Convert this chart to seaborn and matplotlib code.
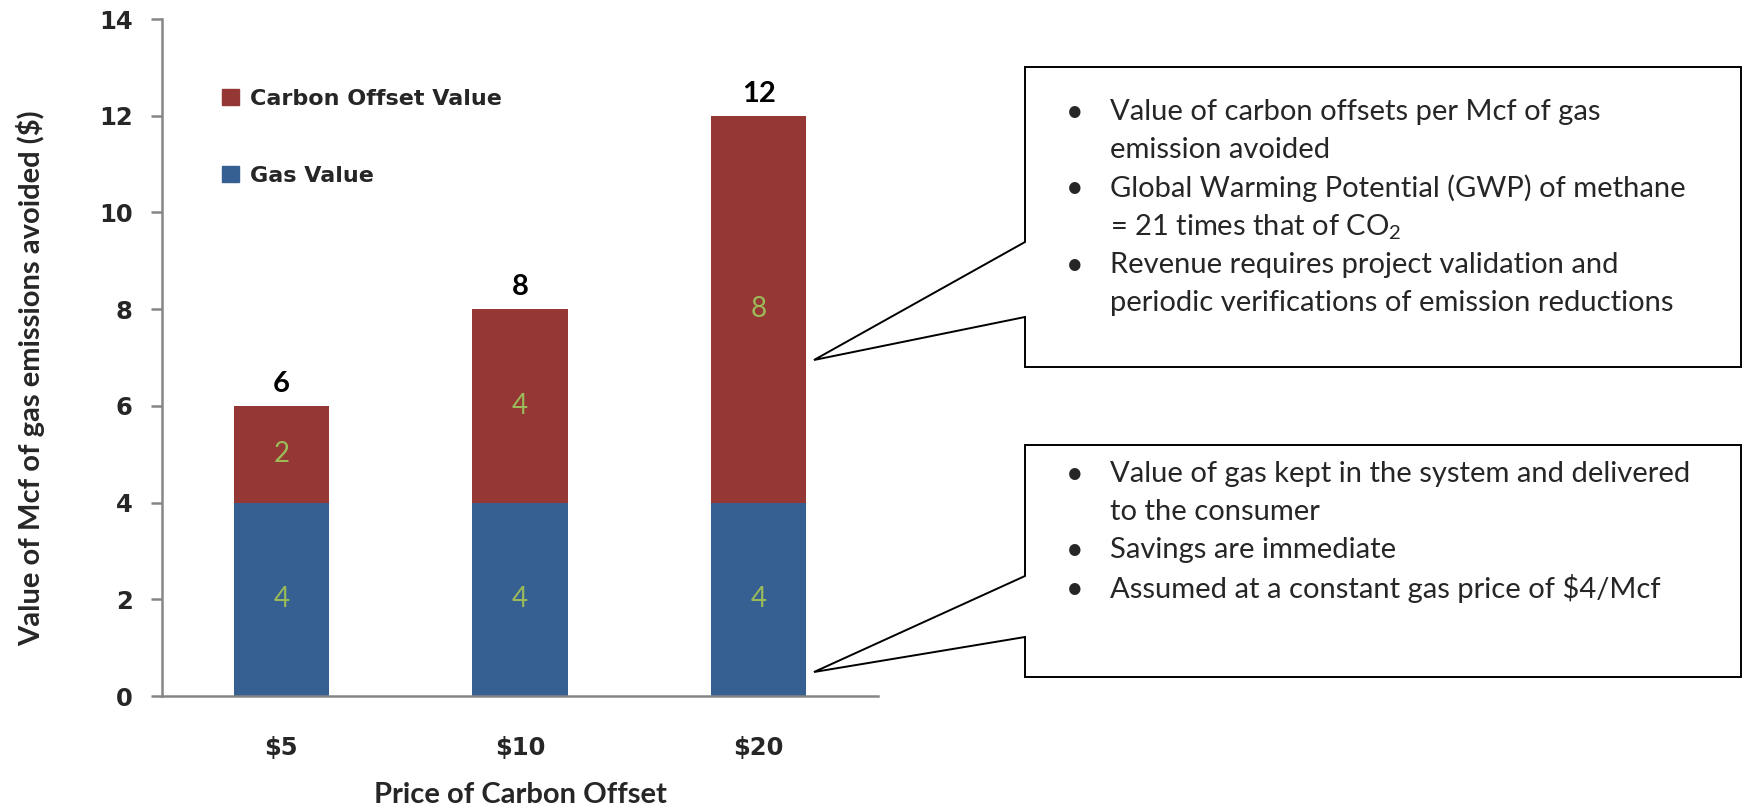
#imports
import seaborn as sns
import numpy as np
import matplotlib.pyplot as plt
from matplotlib.patches import Patch, Polygon

#data
categories = ["$5", "$10", "$20"]
gas_value = [4, 4, 4]
carbon_value = [2, 4, 8]
y_ticks = [0, 2, 4, 6, 8, 10, 12, 14]

top_notes = [
    ["Value of carbon offsets per Mcf of gas", "emission avoided"],
    ["Global Warming Potential (GWP) of methane", r"= 21 times that of CO$_\mathregular{2}$"],
    ["Revenue requires project validation and", "periodic verifications of emission reductions"],
]
bottom_notes = [
    ["Value of gas kept in the system and delivered", "to the consumer"],
    ["Savings are immediate"],
    ["Assumed at a constant gas price of $4/Mcf"],
]

red = "#953735"
blue = "#376092"
green = "#9BBB59"
gray = "#868686"

totals = [g + c for g, c in zip(gas_value, carbon_value)]

sns.set_style("white")
plt.rcParams["font.family"] = ["Lato", "DejaVu Sans"]
plt.rcParams["mathtext.fontset"] = "custom"
plt.rcParams["mathtext.rm"] = "Lato"

W, H = 1744, 805
fig = plt.figure(figsize=(W / 100, H / 100), dpi=100)
ax = fig.add_axes([162 / W, 1 - 696 / H, (878 - 162) / W, (696 - 19) / H])

#stacked bars: total in red, gas drawn over the bottom part
sns.barplot(x=categories, y=totals, color=red, width=0.4, saturation=1, linewidth=0, ax=ax)
sns.barplot(x=categories, y=gas_value, color=blue, width=0.4, saturation=1, linewidth=0, ax=ax)

#labels inside and above the bars
for i in range(len(categories)):
    ax.text(i, gas_value[i] / 2, str(gas_value[i]), ha="center", va="center",
            color=green, fontsize=20)
    ax.text(i, gas_value[i] + carbon_value[i] / 2, str(carbon_value[i]), ha="center",
            va="center", color=green, fontsize=20)
    ax.text(i, totals[i] + 0.45, str(totals[i]), ha="center", va="center",
            color="black", fontsize=21, fontweight="bold")

ax.set_ylim(0, 14)
ax.set_xlim(-0.5, 2.5)
ax.set_yticks(y_ticks)
ax.set_yticklabels([str(t) for t in y_ticks], family="DejaVu Sans", fontweight="bold", fontsize=17.5)
ax.set_xticks(range(len(categories)))
ax.set_xticklabels(categories, family="DejaVu Sans", fontweight="bold", fontsize=17.5)
ax.set_xticks([0.5, 1.5], minor=True)
ax.tick_params(axis="x", which="major", length=0, pad=29)
ax.tick_params(axis="x", which="minor", length=9, width=1.8, color=gray, direction="out")
ax.tick_params(axis="y", length=8, width=1.8, color=gray, direction="out", pad=13, left=True)

for side in ["top", "right"]:
    ax.spines[side].set_visible(False)
for side in ["left", "bottom"]:
    ax.spines[side].set_color(gray)
    ax.spines[side].set_linewidth(1.8)

ax.set_xlabel("Price of Carbon Offset", fontsize=21, fontweight="bold")
ax.xaxis.set_label_coords(0.5, -0.127)
ax.set_ylabel("Value of Mcf of gas emissions avoided ($)", fontsize=21, fontweight="bold")
ax.yaxis.set_label_coords(-0.163, 0.47)

#legend
handles = [Patch(color=red, label="Carbon Offset Value"), Patch(color=blue, label="Gas Value")]
fig.legend(handles=handles, loc="upper left", bbox_to_anchor=(222 / W, 1 - 89 / H),
           frameon=False, borderpad=0, borderaxespad=0, handlelength=0.75, handleheight=0.75,
           handletextpad=0.5, labelspacing=2.55,
           prop={"family": "DejaVu Sans", "weight": "bold", "size": 16})

#callout boxes
def callout(top, bottom, base_hi, base_lo, tip, lines, first_y):
    pts = [(1025, top), (1741, top), (1741, bottom), (1025, bottom), (1025, base_lo),
           tip, (1025, base_hi)]
    pts = [(x / W, 1 - y / H) for x, y in pts]
    fig.patches.append(Polygon(pts, closed=True, transform=fig.transFigure, fill=True,
                               facecolor="white", edgecolor="black", linewidth=1.4))
    y = first_y
    for item in lines:
        fig.text(1066 / W, 1 - y / H, "\u2022", ha="left", va="center", fontsize=22)
        for line in item:
            fig.text(1110 / W, 1 - y / H, line, ha="left", va="center", fontsize=21)
            y += 38.2

callout(67, 367, 242, 317, (814, 360), top_notes, 112)
callout(445, 677, 576, 637, (814, 672), bottom_notes, 474)

fig.savefig("out.png", dpi=100)
